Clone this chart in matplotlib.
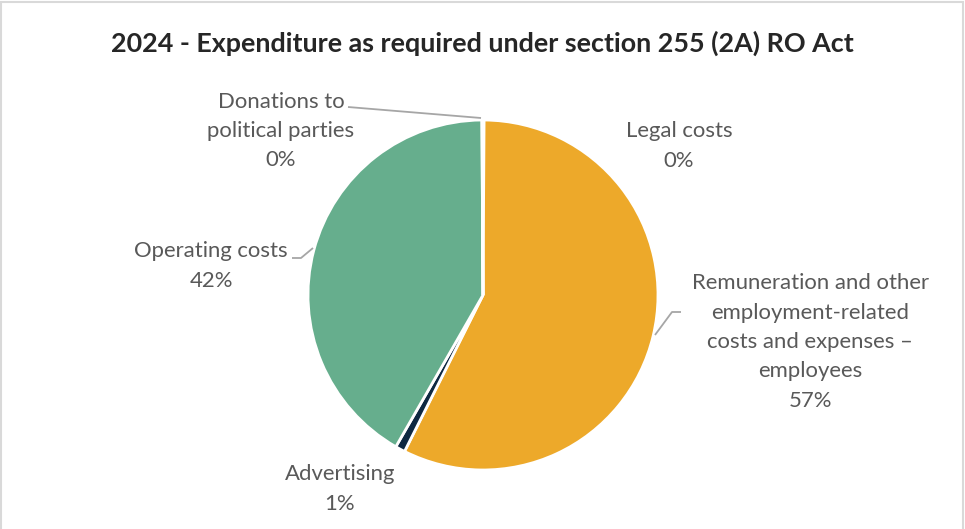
import numpy as np
import matplotlib.pyplot as plt
from matplotlib.patches import Rectangle

# data, clockwise from 12 o'clock
categories = ["Legal costs",
              "Remuneration and other\nemployment-related\ncosts and expenses \u2013\nemployees",
              "Advertising",
              "Operating costs",
              "Donations to\npolitical parties"]
shares = [0.1, 57.3, 0.9, 41.6, 0.1]
colors = ["#4E95D9", "#EDA92A", "#0E2841", "#66AE8D", "#A02B93"]

W, H = 965, 529
TXT = "#595959"
LINE = "#A6A6A6"
FONT = "Lato"

fig = plt.figure(figsize=(W / 100, H / 100), dpi=100)
ax = fig.add_axes([0, 0, 1, 1])


def Y(y):
    # pixel row (from top) -> axis y
    return H - y


cx, cy, r = 483, Y(295), 175
wedges, _ = ax.pie(shares, colors=colors, startangle=90, counterclock=False,
                   center=(cx, cy), radius=r, frame=True,
                   wedgeprops=dict(edgecolor="white", linewidth=2))
ax.set_xlim(0, W)
ax.set_ylim(0, H)
ax.set_aspect("equal")
ax.axis("off")

# label blocks: (x, y-center from top, leader path from text side, end on pie)
label_pos = {
    0: (679, 146, None, None),
    1: (810, 342, [(681, 312), (672, 312)], (655, 335)),
    2: (340, 489, None, None),
    3: (211, 266, [(292, 258), (301, 258)], (313, 248)),
    4: (281, 131, [(348, 107)], (481, 118)),
}

for i, (x, y, path, end) in label_pos.items():
    ax.text(x, Y(y), f"{categories[i]}\n{shares[i]:.0f}%", ha="center", va="center",
            fontsize=15.9, color=TXT, family=FONT, linespacing=1.58)
    if path:
        pts = path + [end]
        ax.plot([p[0] for p in pts], [Y(p[1]) for p in pts], color=LINE, lw=1.3,
                solid_capstyle="butt")

ax.text(W / 2, Y(43), "2024 - Expenditure as required under section 255 (2A) RO Act",
        ha="center", va="center", fontsize=19.4, fontweight="bold",
        color="#262626", family=FONT)

# chart frame
ax.add_patch(Rectangle((1, -5), W - 3, H + 3, fill=False, edgecolor="#D9D9D9",
                       lw=1.5, clip_on=False))

fig.savefig("out.png", dpi=100, facecolor="white")
